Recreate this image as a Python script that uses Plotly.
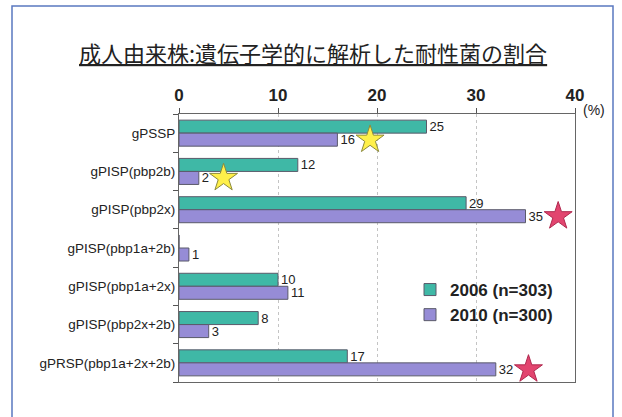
import plotly.graph_objects as go

# Categories (top to bottom) and the share of each genotype (%)
categories = [
    "gPSSP",
    "gPISP(pbp2b)",
    "gPISP(pbp2x)",
    "gPISP(pbp1a+2b)",
    "gPISP(pbp1a+2x)",
    "gPISP(pbp2x+2b)",
    "gPRSP(pbp1a+2x+2b)",
]
values_2006 = [25, 12, 29, 0, 10, 8, 17]
values_2010 = [16, 2, 35, 1, 11, 3, 32]
series_names = ["2006 (n=303)", "2010 (n=300)"]
x_ticks = [0, 10, 20, 30, 40]

# Star highlights next to the 2010 bars ("" = none)
star_kind = ["yellow", "yellow", "red", "", "", "", "red"]

title_text = "成人由来株:遺伝子学的に解析した耐性菌の割合"

TEAL = "#3fb8a6"
PURPLE = "#968cd6"
EDGE = "#5a5a6a"
STAR_FILL = {"yellow": "#fff04a", "red": "#e2456f"}
STAR_LINE = {"yellow": "#8c8a3c", "red": "#b0284e"}

# plot-area geometry (pixels)
W, H = 622, 417
ML, MR, MT, MB = 179, 47, 114, 35
PW, PH = W - ML - MR, H - MT - MB

idx = list(range(len(categories)))
BAR_W = 0.34

def labels(vals):
    return [str(v) if v > 0 else "" for v in vals]

fig = go.Figure()
for name, vals, color in [
    (series_names[0], values_2006, TEAL),
    (series_names[1], values_2010, PURPLE),
]:
    fig.add_trace(go.Bar(
        y=idx, x=vals, orientation="h", name=name,
        width=BAR_W,
        marker=dict(color=color, line=dict(color=EDGE, width=1)),
        text=labels(vals), textposition="outside", constraintext="none",
        textfont=dict(family="Liberation Sans", size=13, color="#222"),
        cliponaxis=False,
    ))

# stars beside selected 2010 values
for kind in ("yellow", "red"):
    sx, sy = [], []
    for i, k in enumerate(star_kind):
        if k == kind:
            v = values_2010[i]
            sx.append(v + 0.8 * len(str(v)) + 1.7)
            sy.append(i + BAR_W / 2)
    fig.add_trace(go.Scatter(
        x=sx, y=sy, mode="markers", showlegend=False, cliponaxis=False,
        marker=dict(symbol="star", size=21, color=STAR_FILL[kind],
                    line=dict(color=STAR_LINE[kind], width=1)),
        hoverinfo="skip",
    ))

def px_x(p):
    return (p - ML) / PW

def px_y(p):
    return (H - MB - p) / PH

fig.update_layout(
    width=W, height=H,
    margin=dict(l=ML, r=MR, t=MT, b=MB),
    paper_bgcolor="white", plot_bgcolor="white",
    barmode="group", bargap=0.32,
    showlegend=True,
    legend=dict(
        x=px_x(410), y=px_y(272), xanchor="left", yanchor="top",
        bgcolor="rgba(0,0,0,0)",
        font=dict(family="Liberation Sans", size=17, color="#222", weight=600),
        itemwidth=30, tracegroupgap=2,
    ),
    font=dict(family="Liberation Sans", color="#222"),
    xaxis=dict(
        side="top", range=[0, 40], tickvals=x_ticks,
        ticks="outside", ticklen=5, tickcolor="#555",
        showline=True, linecolor="#666", linewidth=1, mirror=True,
        showgrid=True, gridcolor="#c4c4c4", griddash="dot", gridwidth=1,
        zeroline=False,
        tickfont=dict(family="Liberation Sans", size=17, color="#222", weight="bold"),
    ),
    yaxis=dict(
        range=[len(categories) - 0.5, -0.5],
        tickmode="array", tickvals=idx, ticktext=categories,
        ticks="", showgrid=False, zeroline=False,
        showline=True, linecolor="#666", linewidth=1, mirror=True,
        tickfont=dict(family="Liberation Sans", size=13.5, color="#222"),
        minor=dict(tickmode="array",
                   tickvals=[i - 0.5 for i in idx] + [len(idx) - 0.5],
                   ticks="outside", ticklen=5, tickcolor="#555"),
    ),
    annotations=[
        dict(text="<u>" + title_text + "</u>", x=px_x(313), y=px_y(52),
             xref="paper", yref="paper", showarrow=False,
             xanchor="center", yanchor="middle",
             font=dict(family="Noto Sans CJK JP", size=22, color="#222")),
        dict(text="(%)", x=px_x(594), y=px_y(110),
             xref="paper", yref="paper", showarrow=False,
             xanchor="center", yanchor="middle",
             font=dict(family="Liberation Sans", size=14, color="#222")),
    ],
    shapes=[
        # outer frame around the panel
        dict(type="rect", xref="paper", yref="paper",
             x0=px_x(12), x1=px_x(613), y0=px_y(440), y1=px_y(6),
             line=dict(color="#5a78c0", width=1.5), layer="below"),
    ],
)

fig.write_html("out.html")
